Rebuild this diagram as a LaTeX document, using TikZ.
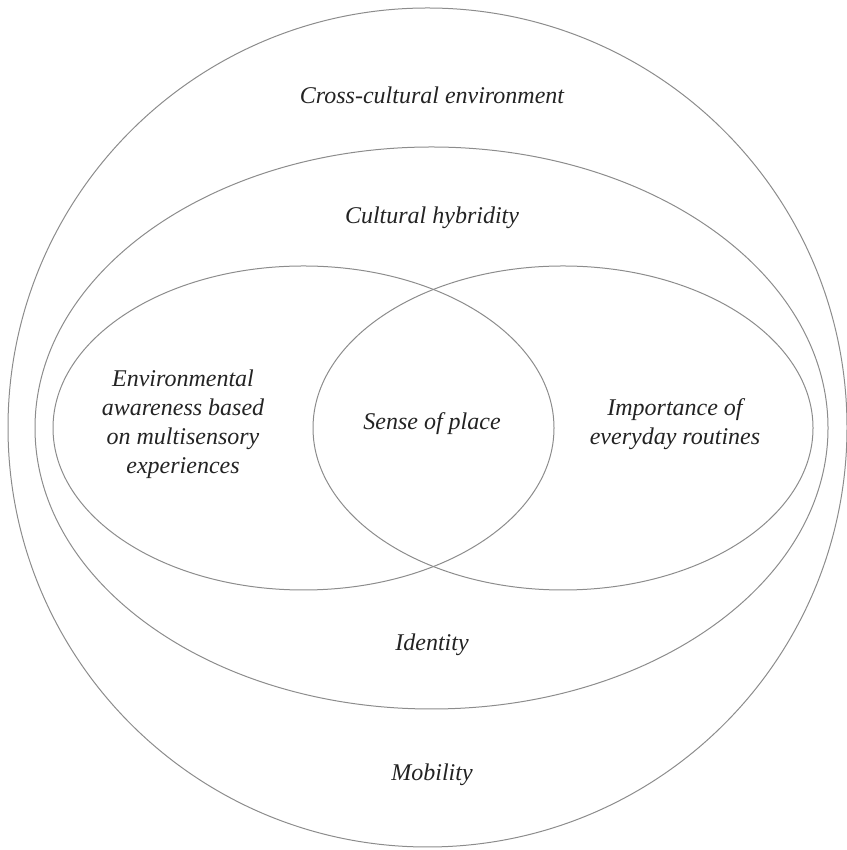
\documentclass[tikz,border=0pt]{standalone}
\usepackage{fontspec}
\setmainfont{Liberation Serif}
\usepackage{xcolor}
\definecolor{ring-gray}{RGB}{140,140,140}
\definecolor{label-ink}{RGB}{35,35,35}
\usepackage{tikz}
\usetikzlibrary{positioning}

\begin{document}
\begin{tikzpicture}[
    x=0.5pt, y=0.5pt,
    ring/.style={
        draw=ring-gray,
        line width=0.5pt
    },
    ring label/.style={
        text=label-ink,
        font=\fontsize{12}{14.5}\selectfont\itshape,
        align=center,
        inner sep=0pt
    }
]
\useasboundingbox (0,0) rectangle (846,850);

% Nested rings
\draw[ring] (427.5,422.5) circle (419.5);
\draw[ring] (431.5,422) ellipse (396.5 and 281);

% Overlapping pair
\draw[ring] (303.5,422) ellipse (250.5 and 162);
\draw[ring] (563,422) ellipse (250 and 162);

% Labels
\node[ring label] (cross) at (432,755) {Cross-cultural environment};
\node[ring label] (hybrid) at (432,632) {Cultural hybridity};
\node[ring label] (aware) at (183,426) {
    Environmental\\
    awareness based\\
    on multisensory\\
    experiences
};
\node[ring label] (place) at (432,426) {Sense of place};
\node[ring label] (routine) at (675,426) {
    Importance of\\
    everyday routines
};
\node[ring label] (ident) at (432,205) {Identity};
\node[ring label] (mobil) at (432,75) {Mobility};

\end{tikzpicture}
\end{document}
